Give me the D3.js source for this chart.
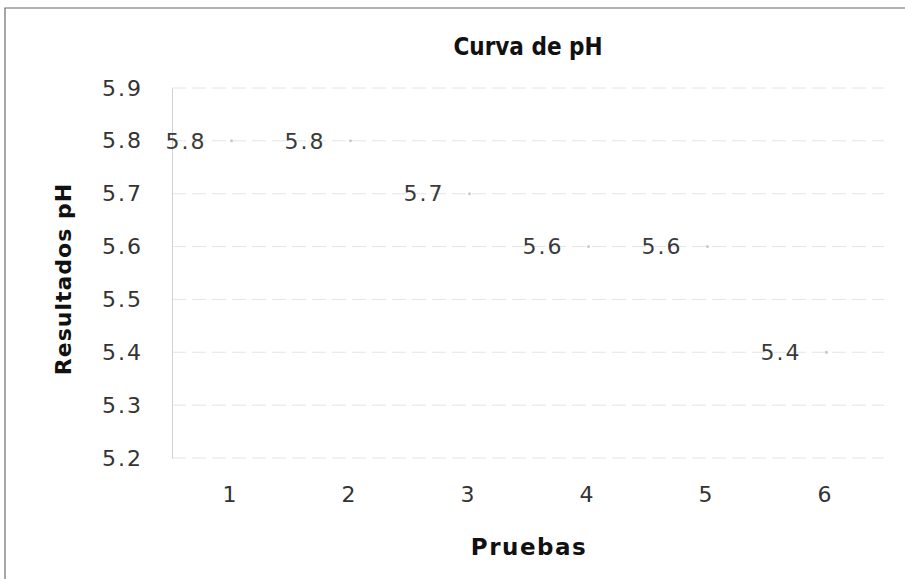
<!DOCTYPE html>
<html>
<head>
<meta charset="utf-8">
<script src="https://cdnjs.cloudflare.com/ajax/libs/d3/7.8.5/d3.min.js"></script>
<style>
  body { margin: 0; background: #fff; }
  svg { display: block; font-family: "DejaVu Sans", Verdana, sans-serif; }
</style>
</head>
<body>
<div id="chart"></div>
<script>
// data
var pruebas = [1, 2, 3, 4, 5, 6]
var resultados = [5.8, 5.8, 5.7, 5.6, 5.6, 5.4]
var yTicks = [5.2, 5.3, 5.4, 5.5, 5.6, 5.7, 5.8, 5.9]

var W = 905, H = 579
var margin = { top: 88, right: 21, bottom: 121, left: 170 }

var svg = d3.select("#chart")
    .append("svg")
    .attr("width", W)
    .attr("height", H)

// chart border (left + top visible in scan)
svg.append("path")
    .attr("d", "M5,579 L5,8 L910,8")
    .attr("fill", "none")
    .attr("stroke", "#6b6b6b")
    .attr("stroke-width", 1.2)

var x = d3.scaleBand()
    .domain(pruebas)
    .range([margin.left, W - margin.right])

var y = d3.scaleLinear()
    .domain([5.2, 5.9])
    .range([H - margin.bottom, margin.top])

// grid lines
svg.append("g")
    .selectAll("line")
    .data(yTicks)
    .enter()
    .append("line")
    .attr("x1", margin.left + 2)
    .attr("x2", W - margin.right)
    .attr("y1", function (d) { return y(d) })
    .attr("y2", function (d) { return y(d) })
    .attr("stroke", "#e4e4e4")
    .attr("stroke-width", 1)
    .attr("stroke-dasharray", "14,6")

// Y axis
var yAxis = svg.append("g")
    .attr("transform", "translate(" + (margin.left + 2) + ",0)")
    .call(d3.axisLeft(y).tickValues(yTicks).tickFormat(d3.format(".1f")).tickSize(0).tickPadding(29))
yAxis.select(".domain").attr("stroke", "#d2d2d2")
yAxis.selectAll("text")
    .attr("font-size", 22)
    .attr("letter-spacing", 2)
    .attr("fill", "#333")
    .attr("font-family", "DejaVu Sans, Verdana, sans-serif")

// X axis
var xAxis = svg.append("g")
    .attr("transform", "translate(0," + (H - margin.bottom) + ")")
    .call(d3.axisBottom(x).tickSize(0).tickPadding(28))
xAxis.select(".domain").remove()
xAxis.selectAll("text")
    .attr("font-size", 22)
    .attr("fill", "#333")
    .attr("font-family", "DejaVu Sans, Verdana, sans-serif")

var pts = pruebas.map(function (p, i) { return { p: p, v: resultados[i] } })

// faint markers
svg.append("g")
    .selectAll("circle")
    .data(pts)
    .enter()
    .append("circle")
    .attr("cx", function (d) { return x(d.p) + x.bandwidth() / 2 + 2 })
    .attr("cy", function (d) { return y(d.v) })
    .attr("r", 1.5)
    .attr("fill", "#c8c8c8")

// data labels, left of the point
svg.append("g")
    .selectAll("text")
    .data(pts)
    .enter()
    .append("text")
    .attr("x", function (d) { return x(d.p) + x.bandwidth() / 2 - 23 })
    .attr("y", function (d) { return y(d.v) })
    .attr("dy", "0.35em")
    .attr("text-anchor", "end")
    .attr("font-size", 22)
    .attr("letter-spacing", 2)
    .attr("fill", "#3a3a3a")
    .text(function (d) { return d3.format(".1f")(d.v) })

// title
svg.append("text")
    .attr("x", 528)
    .attr("y", 55)
    .attr("text-anchor", "middle")
    .attr("font-family", "DejaVu Sans Condensed, DejaVu Sans, sans-serif")
    .attr("font-stretch", "condensed")
    .attr("font-size", 24)
    .attr("font-weight", "bold")
    .attr("fill", "#111")
    .text("Curva de pH")

// axis titles
svg.append("text")
    .attr("x", 529)
    .attr("y", 555)
    .attr("text-anchor", "middle")
    .attr("font-size", 23)
    .attr("letter-spacing", 1.5)
    .attr("font-weight", "bold")
    .attr("fill", "#111")
    .text("Pruebas")

svg.append("text")
    .attr("transform", "translate(71,279) rotate(-90)")
    .attr("text-anchor", "middle")
    .attr("font-size", 22)
    .attr("letter-spacing", 1)
    .attr("font-weight", "bold")
    .attr("fill", "#111")
    .text("Resultados pH")
</script>
</body>
</html>
